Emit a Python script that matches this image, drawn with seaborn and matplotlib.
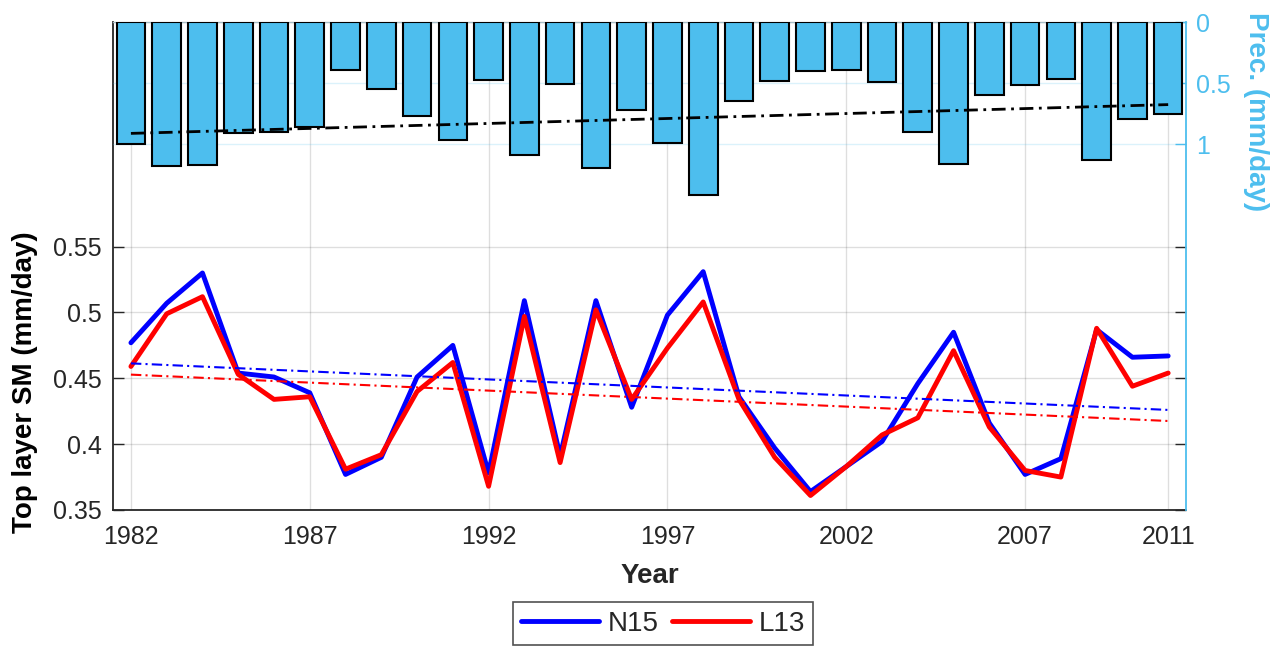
import numpy as np
import matplotlib
matplotlib.use("Agg")
import matplotlib.pyplot as plt
import seaborn as sns

# Annual series, 1982-2011
years = list(range(1982, 2012))
prec = [1.00, 1.18, 1.17, 0.91, 0.90, 0.86, 0.39, 0.55, 0.77, 0.97,
        0.475, 1.09, 0.51, 1.20, 0.72, 0.995, 1.415, 0.65, 0.48, 0.40,
        0.395, 0.495, 0.90, 1.165, 0.595, 0.52, 0.47, 1.13, 0.795, 0.75]
sm_n15 = [0.477, 0.507, 0.530, 0.454, 0.451, 0.439, 0.377, 0.390, 0.451, 0.475,
          0.378, 0.509, 0.391, 0.509, 0.428, 0.498, 0.531, 0.436, 0.397, 0.364,
          0.383, 0.402, 0.446, 0.485, 0.416, 0.377, 0.389, 0.487, 0.466, 0.467]
sm_l13 = [0.459, 0.499, 0.512, 0.453, 0.434, 0.436, 0.381, 0.392, 0.440, 0.462,
          0.368, 0.497, 0.386, 0.502, 0.434, 0.473, 0.508, 0.434, 0.390, 0.361,
          0.383, 0.407, 0.420, 0.471, 0.413, 0.380, 0.375, 0.488, 0.444, 0.454]
sm_ticks = [0.35, 0.4, 0.45, 0.5, 0.55]
sm_ticklabels = ["0.35", "0.4", "0.45", "0.5", "0.55"]
prec_ticks = [0, 0.5, 1]
prec_ticklabels = ["0", "0.5", "1"]
year_ticks = [1982, 1987, 1992, 1997, 2002, 2007, 2011]

sns.set_theme(style="white")
plt.rcParams['font.family'] = ['Liberation Sans', 'DejaVu Sans']

DARK = "#262626"
SKY = "#4DBEEE"
DASHDOT = (0, (5, 2, 1, 2))

fig = plt.figure(figsize=(12.73, 6.51), dpi=100)
ax = fig.add_axes([0.0888, 0.2166, 0.8429, 0.7496])
ax2 = ax.twinx()

# Precipitation bars hanging from the top (reversed right axis)
sns.barplot(x=years, y=prec, native_scale=True, orient="x", width=0.8,
            color=SKY, saturation=1, edgecolor="black", linewidth=1.5,
            errorbar=None, ax=ax2)
p_fit = np.polyval(np.polyfit(years, prec, 1), years)
sns.lineplot(x=years, y=p_fit, color="black", linewidth=2.0,
             linestyle=DASHDOT, ax=ax2)

# Soil moisture series and their linear trends
sns.lineplot(x=years, y=sm_n15, color="#0000FF", linewidth=3.5, label="N15", ax=ax)
sns.lineplot(x=years, y=sm_l13, color="#FF0000", linewidth=3.5, label="L13", ax=ax)
for series, col in ((sm_n15, "#0000FF"), (sm_l13, "#FF0000")):
    fit = np.polyval(np.polyfit(years, series, 1), years)
    sns.lineplot(x=years, y=fit, color=col, linewidth=1.5,
                 linestyle=DASHDOT, ax=ax)

handles, labels = ax.get_legend_handles_labels()
if ax.legend_ is not None:
    ax.legend_.remove()

# Left axis
ax.set_xlim(1981.5, 2011.5)
ax.set_ylim(0.35, 0.7206)
ax.set_xticks(year_ticks)
ax.set_xticklabels([str(y) for y in year_ticks])
ax.set_yticks(sm_ticks)
ax.set_yticklabels(sm_ticklabels)
ax.grid(True, color="#262626", alpha=0.15, linewidth=1.0)
ax.set_axisbelow(True)
ax.tick_params(axis="both", direction="in", length=8, width=1.0, color=DARK,
               labelsize=18, labelcolor=DARK)
ax.tick_params(axis="x", pad=11)
ax.tick_params(axis="y", pad=8, right=True)
ax.tick_params(axis="x", top=False)
for side in ("left", "bottom"):
    ax.spines[side].set_color(DARK)
    ax.spines[side].set_linewidth(1.3)
ax.spines["top"].set_color("#bcbcbc")
ax.spines["top"].set_linewidth(1.0)
ax.spines["right"].set_visible(False)

ax.set_xlabel("Year", fontsize=20, fontweight="bold", color=DARK, labelpad=10)
ax.set_ylabel("Top layer SM (mm/day)", fontsize=20, fontweight="bold",
              color="black", va="center")
ax.yaxis.set_label_coords(-0.082, 0.262)

# Right axis
ax2.set_ylim(4.0, 0.0)
ax2.set_yticks(prec_ticks)
ax2.set_yticklabels(prec_ticklabels)
ax2.yaxis.grid(True, color=SKY, alpha=0.2, linewidth=1.0)
ax2.xaxis.grid(False)
ax2.set_axisbelow(True)
ax2.tick_params(axis="y", direction="in", length=8, width=1.0, color=SKY,
                labelsize=18, labelcolor=SKY, pad=7)
ax2.set_xlabel("")
ax2.set_ylabel("Prec. (mm/day)", fontsize=20, fontweight="bold", color=SKY,
               rotation=-90, va="center")
ax2.yaxis.set_label_coords(1.065, 0.8156)
ax2.spines["right"].set_color(SKY)
ax2.spines["right"].set_linewidth(1.3)
for side in ("left", "top", "bottom"):
    ax2.spines[side].set_visible(False)
ax2.set_xlim(1981.5, 2011.5)

leg = fig.legend(handles, labels, loc="center", bbox_to_anchor=(0.521, 0.042),
                 ncol=2, fontsize=20, frameon=True, fancybox=False,
                 edgecolor=DARK, handlelength=2.8, handletextpad=0.3,
                 columnspacing=0.5, borderpad=0.3)
leg.get_frame().set_linewidth(1.2)

fig.savefig("out.png", dpi=100)
